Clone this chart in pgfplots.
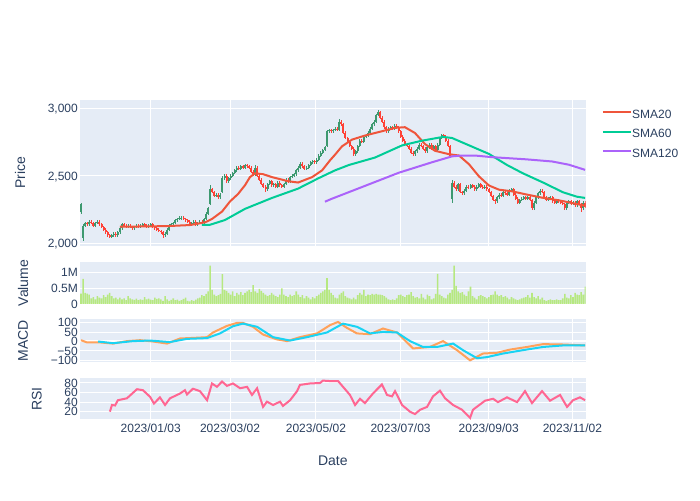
\documentclass[border=0pt]{standalone}
\usepackage{pgfplots}
\pgfplotsset{compat=1.18}
\usepackage{pgfplotstable}
\usepackage{fontspec}
\setmainfont{Liberation Sans}
\definecolor{bgc}{HTML}{E5ECF6}
\definecolor{txt}{HTML}{2A3F5F}
\definecolor{inc}{HTML}{3D9970}
\definecolor{dec}{HTML}{FF4136}
\definecolor{sa}{HTML}{EF553B}
\definecolor{sb}{HTML}{00CC96}
\definecolor{sc}{HTML}{AB63FA}
\definecolor{macdc}{HTML}{FFA15A}
\definecolor{sigc}{HTML}{19D3F3}
\definecolor{rsic}{HTML}{FF6692}
\definecolor{volc}{HTML}{B6E880}
\newcommand{\tickfont}{\fontsize{12}{14}\selectfont}
\newcommand{\labfont}{\fontsize{14}{16}\selectfont}

\pgfplotstableread{
i o c h l v
0 2230 2290 2300 2220 0.33
1 2040 2130 2140 2020 0.80
2 2130 2150 2160 2120 0.35
3 2150 2140 2160 2130 0.33
4 2140 2160 2170 2130 0.30
5 2160 2150 2170 2140 0.18
6 2150 2130 2160 2120 0.22
7 2130 2150 2160 2120 0.15
8 2150 2160 2170 2140 0.25
9 2160 2140 2170 2130 0.20
10 2140 2120 2150 2110 0.18
11 2120 2100 2130 2090 0.28
12 2100 2080 2110 2070 0.22
13 2080 2060 2090 2050 0.30
14 2060 2050 2070 2040 0.35
15 2050 2060 2070 2040 0.25
16 2060 2070 2080 2050 0.18
17 2070 2060 2080 2050 0.20
18 2060 2080 2090 2050 0.15
19 2080 2110 2120 2070 0.20
20 2110 2140 2150 2100 0.15
21 2140 2130 2150 2120 0.18
22 2130 2120 2140 2110 0.12
23 2120 2130 2140 2110 0.25
24 2130 2120 2140 2110 0.18
25 2120 2110 2130 2100 0.15
26 2110 2120 2130 2100 0.13
27 2120 2130 2140 2110 0.17
28 2130 2120 2140 2110 0.12
29 2120 2130 2140 2110 0.15
30 2130 2140 2150 2120 0.13
31 2140 2130 2150 2120 0.22
32 2130 2120 2140 2110 0.15
33 2120 2130 2140 2110 0.17
34 2130 2140 2150 2120 0.14
35 2140 2120 2150 2110 0.12
36 2120 2110 2130 2100 0.20
37 2110 2100 2120 2090 0.16
38 2100 2090 2110 2080 0.18
39 2090 2080 2100 2070 0.15
40 2080 2060 2090 2040 0.10
41 2060 2070 2080 2050 0.25
42 2070 2100 2110 2060 0.15
43 2100 2130 2140 2090 0.10
44 2130 2140 2150 2120 0.13
45 2140 2150 2160 2130 0.18
46 2150 2170 2180 2140 0.12
47 2170 2180 2190 2160 0.14
48 2180 2190 2200 2170 0.10
49 2180 2190 2200 2170 0.12
50 2190 2180 2200 2170 0.16
51 2180 2170 2190 2160 0.20
52 2170 2160 2180 2150 0.10
53 2160 2140 2170 2130 0.08
54 2140 2150 2160 2130 0.12
55 2150 2160 2170 2140 0.10
56 2160 2140 2170 2130 0.14
57 2140 2150 2160 2130 0.18
58 2150 2160 2170 2140 0.20
59 2160 2150 2170 2140 0.28
60 2150 2180 2190 2140 0.25
61 2180 2220 2230 2170 0.32
62 2220 2260 2270 2210 0.40
63 2290 2400 2430 2280 1.22
64 2400 2380 2410 2370 0.45
65 2380 2350 2390 2340 0.30
66 2350 2360 2370 2340 0.25
67 2360 2340 2370 2330 0.28
68 2340 2360 2370 2330 0.32
69 2380 2480 2500 2370 0.95
70 2480 2500 2510 2470 0.45
71 2500 2460 2510 2450 0.42
72 2460 2480 2490 2450 0.35
73 2480 2500 2510 2470 0.30
74 2500 2520 2530 2490 0.40
75 2520 2540 2550 2510 0.25
76 2540 2560 2570 2530 0.35
77 2560 2550 2570 2540 0.30
78 2550 2570 2580 2540 0.38
79 2570 2560 2580 2550 0.28
80 2560 2580 2590 2550 0.35
81 2580 2570 2590 2560 0.40
82 2570 2560 2580 2550 0.45
83 2560 2530 2570 2520 0.38
84 2530 2510 2540 2500 0.60
85 2510 2560 2580 2500 0.40
86 2560 2500 2570 2490 0.35
87 2500 2470 2510 2460 0.48
88 2470 2440 2480 2430 0.42
89 2440 2420 2450 2410 0.35
90 2420 2400 2430 2380 0.30
91 2400 2440 2450 2390 0.25
92 2440 2460 2470 2430 0.28
93 2460 2430 2470 2420 0.35
94 2430 2440 2450 2420 0.30
95 2440 2420 2450 2410 0.25
96 2420 2450 2460 2410 0.22
97 2450 2430 2460 2420 0.30
98 2430 2420 2440 2410 0.50
99 2420 2440 2450 2410 0.30
100 2440 2470 2480 2430 0.25
101 2470 2460 2480 2450 0.22
102 2460 2490 2500 2450 0.30
103 2490 2500 2510 2480 0.25
104 2500 2510 2520 2490 0.28
105 2510 2540 2550 2500 0.40
106 2540 2560 2570 2530 0.30
107 2560 2590 2600 2550 0.22
108 2590 2570 2600 2560 0.28
109 2570 2550 2580 2540 0.18
110 2550 2560 2570 2540 0.25
111 2560 2580 2590 2550 0.20
112 2580 2600 2610 2570 0.15
113 2600 2610 2620 2590 0.22
114 2610 2600 2620 2590 0.18
115 2600 2620 2630 2590 0.25
116 2620 2650 2660 2610 0.30
117 2650 2670 2680 2640 0.35
118 2670 2690 2700 2660 0.40
119 2690 2710 2720 2680 0.45
120 2720 2830 2840 2710 0.82
121 2830 2840 2850 2820 0.45
122 2840 2830 2850 2820 0.35
123 2830 2840 2850 2820 0.28
124 2840 2850 2860 2830 0.20
125 2850 2840 2860 2830 0.18
126 2840 2900 2920 2830 0.30
127 2900 2880 2910 2870 0.35
128 2880 2820 2890 2810 0.40
129 2820 2780 2830 2770 0.25
130 2780 2750 2790 2740 0.20
131 2750 2720 2760 2710 0.18
132 2720 2700 2730 2690 0.15
133 2700 2660 2710 2650 0.20
134 2660 2680 2690 2650 0.15
135 2680 2720 2730 2670 0.28
136 2720 2760 2770 2710 0.35
137 2760 2750 2770 2740 0.30
138 2750 2790 2800 2740 0.45
139 2790 2800 2810 2780 0.25
140 2800 2820 2830 2790 0.30
141 2820 2850 2860 2810 0.28
142 2850 2880 2890 2840 0.32
143 2880 2900 2910 2870 0.30
144 2900 2950 2960 2890 0.32
145 2950 2970 2990 2940 0.30
146 2970 2930 2980 2920 0.30
147 2930 2900 2940 2890 0.28
148 2900 2860 2910 2850 0.25
149 2860 2830 2870 2820 0.20
150 2830 2850 2860 2820 0.15
151 2850 2860 2870 2840 0.12
152 2860 2850 2870 2840 0.15
153 2850 2870 2880 2840 0.12
154 2870 2860 2880 2850 0.18
155 2860 2830 2870 2820 0.28
156 2830 2790 2840 2780 0.30
157 2790 2760 2800 2750 0.25
158 2760 2730 2770 2720 0.22
159 2730 2720 2740 2710 0.28
160 2720 2700 2730 2690 0.30
161 2700 2670 2710 2660 0.38
162 2670 2660 2680 2650 0.25
163 2660 2680 2690 2650 0.20
164 2680 2700 2710 2670 0.22
165 2700 2730 2740 2690 0.18
166 2730 2720 2740 2710 0.32
167 2720 2700 2730 2690 0.20
168 2700 2680 2710 2670 0.15
169 2680 2710 2720 2670 0.30
170 2710 2730 2740 2700 0.25
171 2730 2700 2740 2690 0.15
172 2700 2720 2730 2690 0.18
173 2720 2690 2730 2680 0.32
174 2690 2730 2740 2680 0.96
175 2730 2780 2790 2720 0.30
176 2780 2800 2810 2770 0.25
177 2800 2790 2810 2780 0.20
178 2790 2760 2800 2750 0.18
179 2760 2720 2770 2710 0.30
180 2720 2640 2730 2630 0.35
181 2330 2450 2470 2300 0.45
182 2450 2420 2460 2410 1.22
183 2420 2400 2430 2390 0.58
184 2400 2440 2450 2390 0.40
185 2440 2380 2450 2370 0.35
186 2380 2370 2390 2360 0.38
187 2370 2390 2400 2360 0.30
188 2390 2420 2430 2380 0.25
189 2420 2410 2430 2400 0.40
190 2410 2430 2440 2400 0.55
191 2430 2420 2440 2410 0.25
192 2420 2400 2430 2390 0.20
193 2400 2420 2430 2390 0.15
194 2420 2440 2450 2410 0.25
195 2440 2420 2450 2410 0.28
196 2420 2410 2430 2400 0.25
197 2410 2420 2430 2400 0.22
198 2420 2400 2430 2390 0.18
199 2400 2380 2410 2370 0.22
200 2380 2350 2390 2340 0.28
201 2350 2320 2360 2310 0.30
202 2320 2310 2330 2290 0.40
203 2310 2340 2350 2300 0.30
204 2340 2360 2370 2330 0.25
205 2360 2350 2370 2340 0.28
206 2350 2380 2390 2340 0.22
207 2380 2370 2390 2360 0.25
208 2370 2360 2380 2350 0.20
209 2360 2390 2400 2350 0.15
210 2390 2400 2410 2380 0.22
211 2400 2360 2410 2350 0.18
212 2360 2330 2370 2320 0.15
213 2330 2300 2340 2290 0.12
214 2300 2320 2330 2290 0.15
215 2320 2330 2340 2310 0.18
216 2330 2340 2350 2320 0.20
217 2340 2330 2350 2320 0.22
218 2330 2340 2350 2320 0.28
219 2340 2320 2350 2310 0.20
220 2320 2260 2330 2250 0.35
221 2260 2300 2310 2250 0.22
222 2300 2340 2350 2290 0.18
223 2340 2370 2380 2330 0.25
224 2370 2390 2400 2360 0.15
225 2390 2380 2400 2370 0.20
226 2380 2340 2390 2330 0.12
227 2340 2320 2350 2310 0.10
228 2320 2330 2340 2310 0.12
229 2330 2340 2350 2320 0.15
230 2340 2310 2350 2300 0.12
231 2310 2300 2320 2290 0.12
232 2300 2320 2330 2290 0.15
233 2320 2310 2330 2300 0.12
234 2310 2300 2320 2290 0.12
235 2300 2290 2310 2280 0.18
236 2290 2260 2300 2250 0.32
237 2260 2300 2310 2250 0.20
238 2300 2310 2320 2290 0.18
239 2310 2290 2320 2280 0.28
240 2290 2300 2310 2280 0.22
241 2300 2280 2310 2270 0.35
242 2280 2310 2320 2270 0.30
243 2310 2290 2320 2280 0.28
244 2290 2260 2300 2230 0.38
245 2260 2300 2310 2250 0.30
246 2300 2270 2310 2260 0.55
}\candles

\pgfplotstableread{
i y
19 2123
33.7 2125
43.4 2128
53.2 2135
58 2148
60.5 2155
63.9 2180
68.8 2235
72.7 2310
76.6 2365
80 2430
82.4 2490
84.9 2518
88.8 2512
93.2 2490
101 2460
105.9 2450
109.3 2470
112.7 2490
117.6 2540
121.5 2615
123.9 2656
127.3 2718
132.2 2768
138.5 2798
146.8 2830
153.2 2855
158 2860
162.9 2817
167.8 2735
172.7 2685
179.5 2660
184.4 2650
189.3 2585
194.1 2496
199 2428
203.9 2397
210.2 2385
217.1 2362
224.9 2338
233.2 2318
241.5 2292
245.9 2278
}\smaA

\pgfplotstableread{
i y
59 2136
62.9 2137
70.2 2172
80 2255
93.2 2336
105.9 2405
115.6 2480
123.9 2540
130.7 2580
143.4 2635
156.6 2725
166.3 2760
176.6 2788
181 2780
186.3 2745
199 2662
207.8 2580
215.6 2518
225.4 2450
235.1 2378
241.9 2345
245.9 2336
}\smaB

\pgfplotstableread{
i y
119 2308
122.4 2330
138.5 2425
155.1 2523
171.2 2600
181 2644
185.9 2650
192.2 2650
200.5 2638
217.1 2622
229.8 2606
238 2582
245.9 2544
}\smaC

\pgfplotstableread{
i y
0 7
2.9 -5
9.3 -5
15.6 -11
22.4 2
28.8 7
35.1 0
42 -11
48.3 16
54.6 19
61.5 23
64.4 48
71.2 83
76.1 99
79 99
83.9 78
88.8 37
95.6 11
100.5 2
106.8 23
115.1 43
121.5 87
125.4 104
129.8 72
134.6 43
141 39
147.3 69
154.1 48
162 -37
170.2 -29
176.6 2
183.4 -46
189.8 -100
196.1 -64
202.9 -60
209.3 -43
217.6 -29
225.4 -14
235.1 -16
245.9 -21
}\macd

\pgfplotstableread{
i y
8.3 0
15.6 -9
25.4 2
33.7 5
43.4 -3
51.7 14
61.5 18
67.8 43
74.1 81
79 95
85.9 78
93.7 23
102 5
110.2 23
120 48
127.8 95
134.6 78
141 43
147.3 51
154.1 48
160.5 2
166.8 -29
173.7 -29
181.5 -11
186.3 -46
193.2 -89
198 -83
205.9 -64
215.6 -46
225.4 -29
235.1 -21
245.9 -21
}\signal

\pgfplotstableread{
i y
14.1 20
15.1 34
16.6 33
18 44
22.4 48
27.3 67
30.2 65
33.7 51
35.6 37
38.5 50
41 34
43.4 48
48.3 58
50.7 65
51.7 56
54.6 68
58 63
61.5 44
63.9 79
66.3 72
68.8 83
71.2 74
74.1 79
77.6 69
81 72
83.4 55
85.9 69
88.8 30
90.7 41
93.7 34
97.1 41
98.5 32
102 44
105.4 63
106.8 76
111.7 79
116.6 80
118 85
121.5 84
125.4 84
127.8 72
131.2 55
133.7 34
136.1 47
138.5 38
142.4 58
146.8 77
149.3 55
151.7 52
153.2 63
156.6 34
160.5 20
162.9 15
165.4 24
168.8 30
171.7 52
175.1 64
177.6 48
181.5 34
185.9 24
189.8 7
191.2 24
197.1 43
201 47
203.4 40
207.8 50
212.7 40
216.6 63
220 38
224.9 63
228.8 43
233.7 55
237.1 30
240 44
243.4 50
245.9 44
}\rsi

\pgfplotsset{
  common/.style={
    scale only axis, width=505.7pt, xmin=-0.49, xmax=246.2,
    axis background/.style={fill=bgc},
    axis line style={draw=none},
    major tick length=0pt, tick style={draw=none},
    xtick={34.0,72.7,114.6,155.9,198.9,239.7},
    xticklabels={},
    xmajorgrids=true, ymajorgrids=true,
    grid style={draw=white, line width=1pt},
    yticklabel style={anchor=base east, inner sep=0pt, xshift=-2pt, yshift=-4.3pt, font=\tickfont, text=txt},
    xticklabel style={anchor=north, inner sep=0pt, yshift=-4.7pt, font=\tickfont, text=txt},
    every axis y label/.style={rotate=90, anchor=center, font=\labfont, text=txt},
    anchor=south west,
  },
  candle/.style={draw=none, mark=none, forget plot, error bars/.cd, y dir=both, y explicit, error mark=none},
}

\begin{document}
\begin{tikzpicture}
\path[use as bounding box] (0pt,0pt) rectangle (700pt,500pt);

% Price panel
\begin{axis}[common, at={(80pt,254.3pt)}, height=145.7pt,
  ymin=1982, ymax=3061.5, ytick={2000,2500,3000}, yticklabels={{2,000},{2,500},{3,000}},
  ylabel={Price}, ylabel style={at={(axis description cs:-0.1186,0.5)}},
  legend style={at={(axis description cs:1,1)}, anchor=north west, xshift=16pt, yshift=-9.3pt,
    draw=none, fill=none, inner sep=0pt, font=\tickfont, text=txt, row sep=7.3pt,
    nodes={inner sep=0pt, text height=9pt, text depth=3pt},
    /tikz/every even column/.style={column sep=6pt}},
  legend cell align=left,
  legend image code/.code={\draw[#1] (0pt,3pt) -- (28.3pt,3pt);},
]
\addplot[candle, error bar style={draw=inc, line width=0.9pt, solid}]
  table[x=i, y=o, y error plus expr={(\thisrow{c}>\thisrow{o})*(\thisrow{h}-\thisrow{o})}, y error minus expr={(\thisrow{c}>\thisrow{o})*(\thisrow{o}-\thisrow{l})}] {\candles};
\addplot[candle, error bar style={draw=dec, line width=0.9pt, solid}]
  table[x=i, y=o, y error plus expr={(\thisrow{c}<\thisrow{o})*(\thisrow{h}-\thisrow{o})}, y error minus expr={(\thisrow{c}<\thisrow{o})*(\thisrow{o}-\thisrow{l})}] {\candles};
\addplot[candle, error bar style={draw=inc, line width=2pt, solid}]
  table[x=i, y=o, y error plus expr={max(\thisrow{c}-\thisrow{o},0)}, y error minus expr={0}] {\candles};
\addplot[candle, error bar style={draw=dec, line width=2pt, solid}]
  table[x=i, y=o, y error plus expr={0}, y error minus expr={max(\thisrow{o}-\thisrow{c},0)}] {\candles};
\addplot[sa, line width=2pt, mark=none] table[x=i, y=y] {\smaA};
\addlegendentry{SMA20}
\addplot[sb, line width=2pt, mark=none] table[x=i, y=y] {\smaB};
\addlegendentry{SMA60}
\addplot[sc, line width=2pt, mark=none] table[x=i, y=y] {\smaC};
\addlegendentry{SMA120}
\end{axis}

% Volume panel
\begin{axis}[common, at={(80pt,195.7pt)}, height=42.6pt, xmajorgrids=false,
  ymin=-0.01, ymax=1.347, ytick={0,0.5,1}, yticklabels={0,0.5M,1M},
  extra y ticks={0}, extra y tick labels={}, extra y tick style={grid style={draw=white, line width=2pt}},
  ylabel={Valume}, ylabel style={at={(axis description cs:-0.1127,0.5)}},
]
\addplot[ybar, bar width=1.55pt, fill=volc, draw=none] table[x=i, y=v] {\candles};
\end{axis}

% MACD panel
\begin{axis}[common, at={(80pt,138.3pt)}, height=42.4pt,
  ymin=-107.4, ymax=118, ytick={-100,-50,0,50,100}, yticklabels={−100,−50,0,50,100},
  extra y ticks={0}, extra y tick labels={}, extra y tick style={grid style={draw=white, line width=2pt}},
  ylabel={MACD}, ylabel style={at={(axis description cs:-0.1127,0.5)}},
]
\addplot[macdc, line width=2pt, mark=none] table[x=i, y=y] {\macd};
\addplot[sigc, line width=2pt, mark=none] table[x=i, y=y] {\signal};
\end{axis}

% RSI panel
\begin{axis}[common, at={(80pt,80.7pt)}, height=41pt,
  ymin=4.1, ymax=89.8, ytick={20,40,60,80}, yticklabels={20,40,60,80},
  xticklabels={2023/01/03,2023/03/02,2023/05/02,2023/07/03,2023/09/03,2023/11/02},
  ylabel={RSI}, ylabel style={at={(axis description cs:-0.0856,0.5)}},
  xlabel={Date}, xlabel style={at={(axis description cs:0.5,0)}, anchor=center, yshift=-41.7pt, font=\labfont, text=txt},
]
\addplot[rsic, line width=2pt, mark=none] table[x=i, y=y] {\rsi};
\end{axis}
\end{tikzpicture}
\end{document}
